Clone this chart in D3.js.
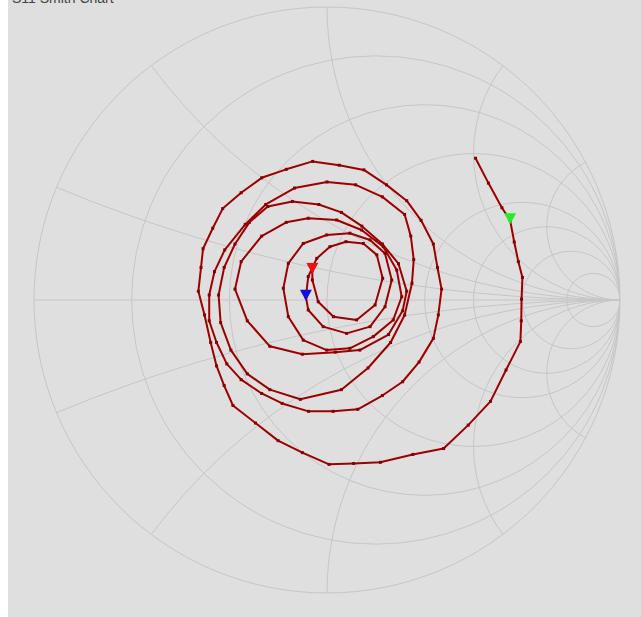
<!DOCTYPE html>
<html><head><meta charset="utf-8">
<script src="https://cdn.jsdelivr.net/npm/d3@7"></script>
<style>body{margin:0;background:#fff}svg{display:block}</style>
</head><body><svg id="c" width="641" height="617"></svg>
<script>
const titleText = "S11 Smith Chart";
const resistanceValues = [0.2, 0.5, 1, 2, 3, 5, 10];
const reactanceValues = [0.2, 0.5, 1, 2, 4];
const gammaRe = [
 0.507,0.551,0.597,0.625,0.639,0.653,0.667,0.664,0.663,0.660,0.611,0.558,0.482,0.398,0.293,0.182,0.091,0.007,-0.084,-0.167,-0.244,-0.321,-0.351,-0.377,-0.397,
 -0.418,-0.439,-0.430,-0.423,-0.390,-0.356,-0.293,-0.223,-0.139,-0.049,0.042,0.126,0.203,0.272,0.321,0.363,0.377,0.391,0.380,0.363,0.314,0.258,0.189,0.105,0.021,-0.063,-0.153,-0.223,
 -0.293,-0.342,-0.377,-0.402,-0.402,-0.384,-0.349,-0.279,-0.209,-0.111,0.000,0.098,0.189,0.265,0.286,0.296,0.290,0.265,0.217,0.140,0.049,-0.091,-0.195,
 -0.272,-0.328,-0.363,-0.370,-0.351,-0.314,-0.265,-0.202,-0.118,-0.028,0.049,0.119,0.189,0.244,0.272,0.258,0.210,0.112,0.028,-0.084,-0.195,-0.272,-0.314,-0.293,-0.223,-0.139,
 -0.064,0.033,0.118,0.192,0.238,0.255,0.226,0.158,0.078,-0.001,-0.081,-0.132,-0.149,-0.132,-0.081,-0.001,
 0.078,0.147,0.198,0.221,0.198,0.147,0.067,-0.013,-0.064,-0.072,-0.064,-0.035,0.010,
 0.065,0.124,0.170,0.190,0.164,0.101,0.022,-0.030,-0.050,-0.050
];
const gammaIm = [
 0.484,0.399,0.315,0.272,0.198,0.131,0.077,0.003,-0.071,-0.142,-0.239,-0.346,-0.427,-0.507,-0.527,-0.554,-0.558,-0.561,-0.521,-0.480,-0.420,-0.360,-0.292,-0.225,-0.145,
 -0.051,0.030,0.111,0.175,0.245,0.312,0.366,0.417,0.446,0.473,0.460,0.444,0.393,0.339,0.272,0.191,0.111,0.037,-0.051,-0.131,-0.212,-0.279,-0.326,-0.373,-0.380,-0.380,-0.353,-0.319,
 -0.272,-0.218,-0.145,-0.071,0.017,0.097,0.171,0.258,0.326,0.382,0.403,0.393,0.352,0.292,0.218,0.138,0.057,-0.051,-0.145,-0.232,-0.306,-0.339,-0.306,
 -0.252,-0.171,-0.077,0.017,0.111,0.191,0.265,0.319,0.336,0.326,0.299,0.252,0.191,0.124,0.030,-0.037,-0.118,-0.171,-0.178,-0.185,-0.158,-0.071,0.037,0.131,0.218,0.265,
 0.279,0.273,0.239,0.182,0.102,0.011,-0.068,-0.125,-0.165,-0.171,-0.137,-0.057,0.040,0.125,0.193,0.222,
 0.228,0.205,0.159,0.068,-0.023,-0.091,-0.114,-0.091,-0.034,0.011,0.080,0.142,0.182,
 0.199,0.193,0.154,0.074,-0.017,-0.068,-0.057,-0.006,0.068,0.102
];
const markerIndex = [3, 127, gammaRe.length - 1];
const markerColor = ["#22ee22", "#1010dd", "#ee1111"];

const svg = d3.select("#c");
const W = 641, H = 617;
svg.append("rect").attr("x", 0).attr("y", 0).attr("width", W).attr("height", H).attr("fill", "#ffffff");
svg.append("rect").attr("x", 8).attr("y", 0).attr("width", W - 8).attr("height", H).attr("fill", "#dfdfdf");
svg.append("text").attr("x", 12).attr("y", 2.5).attr("font-family", "Arial, Liberation Sans, sans-serif")
  .attr("font-size", 14).attr("fill", "#444").text(titleText);

const cx = 327, cy = 300, R = 293;
const x = d3.scaleLinear().domain([-1, 1]).range([cx - R, cx + R]);
const y = d3.scaleLinear().domain([-1, 1]).range([cy + R, cy - R]);
const len = v => x(v) - x(0);

svg.append("clipPath").attr("id", "uc").append("circle").attr("cx", x(0)).attr("cy", y(0)).attr("r", len(1));
const grid = svg.append("g").attr("fill", "none").attr("stroke", "#c6c6c6").attr("stroke-width", 1);
const gc = grid.append("g").attr("clip-path", "url(#uc)");
gc.append("line").attr("x1", x(-1)).attr("x2", x(1)).attr("y1", y(0)).attr("y2", y(0));
gc.selectAll("circle.r").data(resistanceValues).join("circle").attr("class", "r")
  .attr("cx", r => x(r / (1 + r))).attr("cy", y(0)).attr("r", r => len(1 / (1 + r)));
const xs = reactanceValues.flatMap(v => [v, -v]);
gc.selectAll("circle.x").data(xs).join("circle").attr("class", "x")
  .attr("cx", x(1)).attr("cy", v => y(1 / v)).attr("r", v => len(1 / Math.abs(v)));
grid.append("circle").attr("cx", x(0)).attr("cy", y(0)).attr("r", len(1));

const pts = gammaRe.map((g, i) => [x(g), y(gammaIm[i])]);
svg.append("path").attr("d", d3.line()(pts)).attr("fill", "none")
  .attr("stroke", "#9c0000").attr("stroke-width", 2).attr("stroke-linejoin", "round");
svg.append("g").selectAll("rect").data(pts).join("rect")
  .attr("x", p => p[0] - 1.5).attr("y", p => p[1] - 1.5).attr("width", 3).attr("height", 3).attr("fill", "#8a0000");

svg.append("g").selectAll("path").data(markerIndex).join("path")
  .attr("d", (k) => { const p = pts[k]; return `M${p[0]-6},${p[1]-7}L${p[0]+6},${p[1]-7}L${p[0]},${p[1]+4}Z`; })
  .attr("fill", (k, i) => markerColor[i]);
</script></body></html>
